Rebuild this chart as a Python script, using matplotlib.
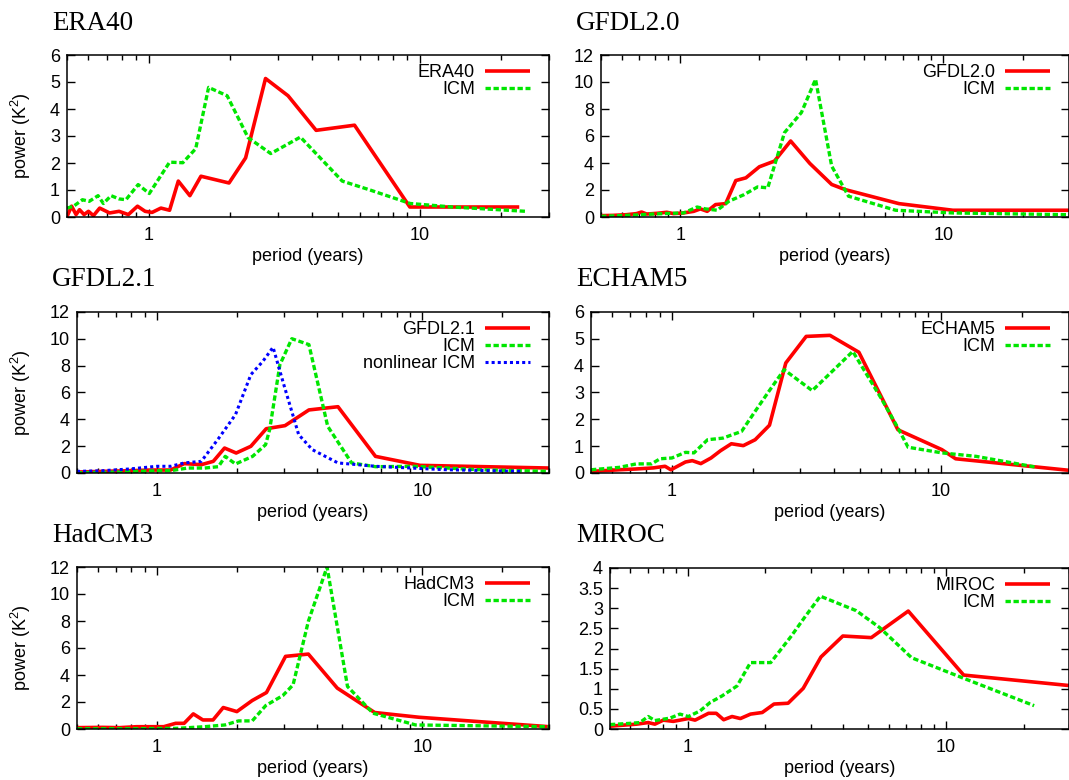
import matplotlib
matplotlib.use("Agg")
import matplotlib.pyplot as plt
from matplotlib.ticker import FixedLocator, FormatStrFormatter, NullFormatter

plt.rcParams['font.family'] = ['Liberation Sans', 'DejaVu Sans']
plt.rcParams['mathtext.default'] = 'regular'

# ---- data: period (years) vs power (K^2) ----
era_x = [0.50, 0.52, 0.54, 0.556, 0.578, 0.60, 0.626, 0.66, 0.718, 0.778, 0.842, 0.91, 0.971,
         1.03, 1.11, 1.195, 1.287, 1.42, 1.56, 1.98, 2.28, 2.70, 3.27, 4.15, 5.75, 9.2, 23.3]
era_y = [0.02, 0.40, 0.09, 0.27, 0.09, 0.21, 0.05, 0.33, 0.15, 0.21, 0.09, 0.40, 0.21,
         0.17, 0.33, 0.25, 1.33, 0.79, 1.51, 1.26, 2.19, 5.13, 4.49, 3.21, 3.40, 0.37, 0.37]
era_icm_x = [0.50, 0.529, 0.57, 0.604, 0.651, 0.681, 0.727, 0.778, 0.825, 0.915, 1.006, 1.195,
             1.337, 1.492, 1.665, 1.949, 2.328, 2.822, 3.631, 5.18, 6.47, 9.23, 13.2, 24.7]
era_icm_y = [0.33, 0.40, 0.64, 0.58, 0.79, 0.50, 0.79, 0.67, 0.64, 1.20, 0.87, 2.03,
             2.01, 2.53, 4.80, 4.49, 2.94, 2.35, 2.96, 1.33, 1.02, 0.50, 0.37, 0.21]

g20_x = [0.50, 0.555, 0.624, 0.682, 0.713, 0.745, 0.814, 0.889, 0.943, 1.03, 1.125, 1.193, 1.266,
         1.362, 1.488, 1.626, 1.776, 1.998, 2.28, 2.627, 3.107, 3.762, 4.232, 6.78, 10.86, 30.0]
g20_y = [0.10, 0.12, 0.17, 0.25, 0.37, 0.22, 0.27, 0.35, 0.25, 0.30, 0.42, 0.60, 0.42,
         0.92, 0.99, 2.70, 2.90, 3.72, 4.14, 5.63, 3.97, 2.41, 2.03, 0.99, 0.50, 0.50]
g20_icm_x = [0.50, 0.589, 0.682, 0.79, 0.915, 1.03, 1.159, 1.247, 1.382, 1.532, 1.75, 1.968,
             2.15, 2.49, 2.887, 3.267, 3.762, 4.36, 6.58, 10.86, 30.0]
g20_icm_y = [0.05, 0.10, 0.15, 0.22, 0.27, 0.30, 0.74, 0.60, 0.50, 1.17, 1.66, 2.23,
             2.16, 6.25, 7.74, 10.2, 3.77, 1.54, 0.50, 0.30, 0.17]

g21_x = [0.50, 0.622, 0.789, 0.943, 1.126, 1.268, 1.47, 1.631, 1.798, 1.989, 2.259, 2.581,
         3.038, 3.738, 4.81, 6.66, 9.8, 30.0]
g21_y = [0.07, 0.12, 0.17, 0.22, 0.22, 0.70, 0.62, 0.87, 1.86, 1.49, 1.99, 3.30,
         3.53, 4.70, 4.94, 1.24, 0.57, 0.37]
g21_icm_x = [0.50, 0.722, 1.0, 1.126, 1.306, 1.514, 1.705, 1.809, 1.977, 2.293, 2.567, 2.659,
             2.906, 3.223, 3.738, 4.40, 5.415, 6.66, 9.23, 16.2, 30.0]
g21_icm_y = [0.02, 0.07, 0.17, 0.17, 0.37, 0.37, 0.47, 1.24, 0.67, 1.24, 2.11, 3.23,
             8.07, 10.01, 9.57, 3.48, 0.75, 0.47, 0.50, 0.25, 0.12]
g21_nl_x = [0.50, 0.622, 0.789, 1.0, 1.126, 1.268, 1.47, 1.705, 1.977, 2.259, 2.506, 2.739,
            2.994, 3.42, 3.85, 4.81, 6.66, 12.05, 23.8]
g21_nl_y = [0.12, 0.17, 0.30, 0.50, 0.50, 0.75, 0.87, 2.56, 4.35, 7.33, 8.32, 9.37,
            6.71, 2.86, 1.74, 0.75, 0.50, 0.25, 0.12]

ech_x = [0.50, 0.637, 0.737, 0.852, 0.943, 0.991, 1.123, 1.191, 1.281, 1.398, 1.516, 1.664,
         1.843, 2.04, 2.306, 2.652, 3.158, 3.872, 4.96, 6.93, 10.1, 11.36, 30.0]
ech_y = [0.06, 0.12, 0.15, 0.19, 0.25, 0.12, 0.41, 0.46, 0.35, 0.56, 0.83, 1.09,
         1.02, 1.24, 1.78, 4.10, 5.09, 5.13, 4.50, 1.61, 0.87, 0.53, 0.10]
ech_icm_x = [0.50, 0.637, 0.737, 0.84, 0.903, 1.0, 1.123, 1.208, 1.357, 1.547, 1.816, 2.04,
             2.293, 2.614, 3.327, 4.707, 5.99, 6.93, 7.56, 10.1, 13.54, 22.86]
ech_icm_y = [0.12, 0.21, 0.34, 0.34, 0.53, 0.56, 0.77, 0.75, 1.24, 1.30, 1.55, 2.30,
             3.04, 3.85, 3.07, 4.53, 2.80, 1.68, 0.96, 0.75, 0.62, 0.21]

had_x = [0.50, 0.624, 0.723, 0.838, 1.061, 1.176, 1.266, 1.371, 1.49, 1.627, 1.778, 2.001,
         2.286, 2.587, 3.052, 3.72, 4.78, 6.615, 9.71, 30.0]
had_y = [0.10, 0.12, 0.10, 0.17, 0.17, 0.42, 0.42, 1.12, 0.67, 0.67, 1.59, 1.29,
         2.11, 2.70, 5.38, 5.55, 3.03, 1.22, 0.87, 0.17]
had_icm_x = [0.50, 0.838, 1.194, 1.512, 1.805, 2.03, 2.286, 2.572, 2.982, 3.258, 3.72, 4.375,
             5.224, 6.518, 9.43, 30.0]
had_icm_y = [0.02, 0.02, 0.05, 0.17, 0.30, 0.60, 0.60, 1.74, 2.48, 3.27, 7.98, 12.0,
             3.15, 1.17, 0.30, 0.17]

mir_x = [0.50, 0.633, 0.703, 0.746, 0.804, 0.879, 0.933, 1.006, 1.068, 1.204, 1.29, 1.378,
         1.485, 1.60, 1.751, 1.944, 2.159, 2.448, 2.802, 3.283, 3.99, 5.144, 7.153, 11.72, 30.0]
mir_y = [0.07, 0.12, 0.16, 0.12, 0.22, 0.19, 0.22, 0.26, 0.22, 0.39, 0.39, 0.23,
         0.31, 0.26, 0.37, 0.41, 0.62, 0.64, 1.01, 1.79, 2.31, 2.27, 2.93, 1.34, 1.08]
mir_icm_x = [0.50, 0.596, 0.652, 0.703, 0.746, 0.853, 0.933, 1.006, 1.117, 1.222, 1.357, 1.553,
             1.751, 2.096, 2.507, 2.827, 3.264, 4.497, 5.54, 7.37, 11.72, 21.98]
mir_icm_y = [0.11, 0.14, 0.16, 0.31, 0.21, 0.27, 0.37, 0.31, 0.45, 0.66, 0.82, 1.07,
             1.65, 1.65, 2.29, 2.76, 3.30, 2.94, 2.52, 1.77, 1.26, 0.58]

W, H = 1069, 780

def box(left, right, top, bottom):
    return [left / W, 1 - bottom / H, (right - left) / W, (bottom - top) / H]

panels = [
    # title, title x (px), box (px), y ticks, ylabel?, series
    ("ERA40", 52, box(67, 549, 55, 217), (6, 1), True,
     [(era_x, era_y, "ERA40", "r"), (era_icm_x, era_icm_y, "ICM", "g")]),
    ("GFDL2.0", 576, box(601, 1069, 55, 217), (12, 2), False,
     [(g20_x, g20_y, "GFDL2.0", "r"), (g20_icm_x, g20_icm_y, "ICM", "g")]),
    ("GFDL2.1", 52, box(77, 549, 312, 473), (12, 2), True,
     [(g21_x, g21_y, "GFDL2.1", "r"), (g21_icm_x, g21_icm_y, "ICM", "g"),
      (g21_nl_x, g21_nl_y, "nonlinear ICM", "b")]),
    ("ECHAM5", 576, box(591, 1069, 312, 473), (6, 1), False,
     [(ech_x, ech_y, "ECHAM5", "r"), (ech_icm_x, ech_icm_y, "ICM", "g")]),
    ("HadCM3", 52, box(77, 549, 567, 729), (12, 2), True,
     [(had_x, had_y, "HadCM3", "r"), (had_icm_x, had_icm_y, "ICM", "g")]),
    ("MIROC", 576, box(610, 1069, 568, 729), (4, 0.5), False,
     [(mir_x, mir_y, "MIROC", "r"), (mir_icm_x, mir_icm_y, "ICM", "g")]),
]

styles = {
    "r": dict(color="#ff0000", lw=2.6, ls="-"),
    "g": dict(color="#00e600", lw=2.4, ls=(0, (1.6, 0.8))),
    "b": dict(color="#0000ff", lw=2.2, ls=(0, (1.0, 1.0))),
}

minor_x = [0.5, 0.6, 0.7, 0.8, 0.9, 2, 3, 4, 5, 6, 7, 8, 9, 20, 30]

fig = plt.figure(figsize=(W / 100, H / 100), dpi=100)

for title, tx, rect, (ymax, ystep), has_ylabel, series in panels:
    ax = fig.add_axes(rect)
    aw, ah = rect[2] * W, rect[3] * H
    for x, y, lab, c in series:
        ax.plot(x, y, label=lab, solid_capstyle="butt", **styles[c])
    ax.set_xscale("log")
    ax.set_xlim(0.5, 30)
    ax.set_ylim(0, ymax)
    n = int(round(ymax / ystep))
    ax.yaxis.set_major_locator(FixedLocator([i * ystep for i in range(n + 1)]))
    ax.yaxis.set_major_formatter(FormatStrFormatter("%g"))
    ax.xaxis.set_major_locator(FixedLocator([1, 10]))
    ax.xaxis.set_major_formatter(FormatStrFormatter("%g"))
    ax.xaxis.set_minor_locator(FixedLocator(minor_x))
    ax.xaxis.set_minor_formatter(NullFormatter())
    ax.tick_params(which="both", direction="in", top=True, right=True,
                   labelsize=13, width=1, color="black")
    ax.tick_params(which="major", length=6)
    ax.tick_params(axis="x", which="major", pad=7)
    ax.tick_params(axis="y", which="major", pad=5)
    ax.tick_params(which="minor", length=3.5)
    for s in ax.spines.values():
        s.set_linewidth(1.1)
    ax.set_xlabel("period (years)", fontsize=13)
    ax.xaxis.set_label_coords(0.5, -(31 / ah))
    if has_ylabel:
        ax.set_ylabel("power (K$^2$)", fontsize=13)
        ax.yaxis.set_label_coords((33 - rect[0] * W) / aw, 0.5)
    ax.legend(loc="upper right", bbox_to_anchor=(1 - 19 / aw, 1 - 9 / ah),
              frameon=False, markerfirst=False, fontsize=13, handlelength=2.5,
              handletextpad=0.55, labelspacing=0.0, borderpad=0, borderaxespad=0)
    fig.text(tx / W, rect[1] + rect[3] + 32 / H, title,
             family="Liberation Serif", fontsize=19.5, va="center", ha="left")

fig.savefig("out.png", dpi=100)
